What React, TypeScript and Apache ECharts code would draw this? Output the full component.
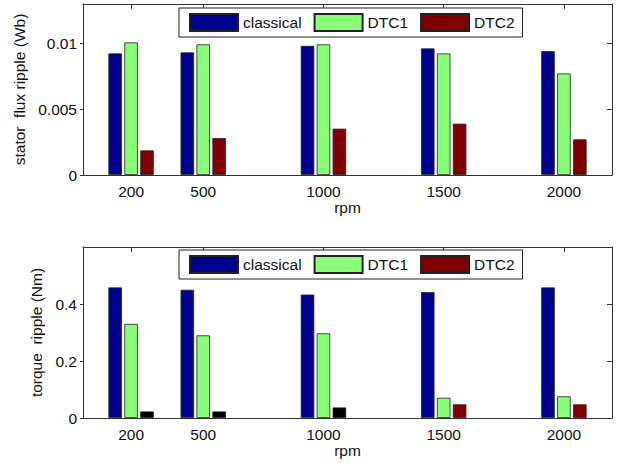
import React, { useEffect, useRef } from "react";
import * as echarts from "echarts";

// Motor speeds (rpm) at which the ripple was measured
const rpm = [200, 500, 1000, 1500, 2000];

// Stator flux ripple (Wb)
const fluxClassical = [0.00924, 0.00932, 0.00982, 0.00962, 0.00942];
const fluxDTC1 = [0.01008, 0.00993, 0.00993, 0.00924, 0.00772];
const fluxDTC2 = [0.00187, 0.00281, 0.00352, 0.0039, 0.00271];

// Torque ripple (Nm)
const torqueClassical = [0.458, 0.45, 0.433, 0.442, 0.458];
const torqueDTC1 = [0.33, 0.29, 0.297, 0.071, 0.076];
const torqueDTC2 = [0.023, 0.023, 0.037, 0.048, 0.048];

// Tick values
const rpmTicks = [200, 500, 1000, 1500, 2000];
const fluxTicks = [0, 0.005, 0.01];
const torqueTicks = [0, 0.2, 0.4];

const seriesNames = ["classical", "DTC1", "DTC2"];

const BLUE = "#00008f";
const GREEN = "#88ff77";
const DARKRED = "#800000";
// DTC2 torque bars pick up a black fill for the first three speeds
const torqueDTC2Colors = ["#000000", "#000000", "#000000", DARKRED, DARKRED];

const FONT = "'Liberation Sans', Arial, Helvetica, sans-serif";
const FS = 15.5;
const INK = "#111";
const AXIS = "#333";

function pairs(xs: number[], ys: number[]) {
  return xs.map((x, i) => [x, ys[i]]);
}

const plain = (v: number) => String(v);

export default function App() {
  const ref = useRef<HTMLDivElement>(null);

  useEffect(() => {
    if (!ref.current) return;
    const chart = echarts.init(ref.current, undefined, { renderer: "svg" });

    const grids = [
      { left: 83, right: 9, top: 4, height: 171 },
      { left: 83, right: 9, top: 247, height: 171 },
    ];

    const xAxes: any[] = [];
    const yAxes: any[] = [];
    const yCfg = [
      { name: "stator  flux ripple (Wb)", max: 0.013, ticks: fluxTicks, gap: 44 },
      { name: "torque  ripple (Nm)", max: 0.6, ticks: torqueTicks, gap: 30 },
    ];

    grids.forEach((_, g) => {
      // bottom x axis with labels
      xAxes.push({
        type: "value",
        gridIndex: g,
        position: "bottom",
        min: 0,
        max: 2200,
        name: "rpm",
        nameLocation: "middle",
        nameGap: 22,
        nameTextStyle: { fontSize: FS, color: INK, fontFamily: FONT },
        axisLine: { show: true, onZero: false, lineStyle: { color: AXIS, width: 1.2 } },
        axisTick: { show: true, inside: true, length: 5, customValues: rpmTicks, lineStyle: { color: AXIS } },
        axisLabel: {
          show: true,
          customValues: rpmTicks,
          formatter: plain,
          margin: 8,
          fontSize: FS,
          color: INK,
          fontFamily: FONT,
        },
        splitLine: { show: false },
      });
      // top x axis: box edge with ticks
      xAxes.push({
        type: "value",
        gridIndex: g,
        position: "top",
        min: 0,
        max: 2200,
        axisLine: { show: true, onZero: false, lineStyle: { color: AXIS, width: 1 } },
        axisTick: { show: true, inside: true, length: 5, customValues: rpmTicks, lineStyle: { color: AXIS } },
        axisLabel: { show: false },
        splitLine: { show: false },
      });
      const c = yCfg[g];
      yAxes.push({
        type: "value",
        gridIndex: g,
        position: "left",
        min: 0,
        max: c.max,
        name: c.name,
        nameLocation: "middle",
        nameGap: c.gap,
        nameRotate: 90,
        nameTextStyle: { fontSize: FS, color: INK, fontFamily: FONT },
        axisLine: { show: true, onZero: false, lineStyle: { color: AXIS, width: 1 } },
        axisTick: { show: true, inside: false, length: 3, customValues: c.ticks, lineStyle: { color: AXIS } },
        axisLabel: {
          show: true,
          customValues: c.ticks,
          formatter: plain,
          margin: 6,
          fontSize: FS,
          color: INK,
          fontFamily: FONT,
        },
        splitLine: { show: false },
      });
      yAxes.push({
        type: "value",
        gridIndex: g,
        position: "right",
        min: 0,
        max: c.max,
        axisLine: { show: true, onZero: false, lineStyle: { color: AXIS, width: 1 } },
        axisTick: { show: true, inside: true, length: 5, customValues: c.ticks, lineStyle: { color: AXIS } },
        axisLabel: { show: false },
        splitLine: { show: false },
      });
    });

    const barBase = {
      type: "bar",
      barWidth: 13.5,
      barGap: "18%",
      itemStyle: { borderColor: "#222", borderWidth: 0.8 },
    };

    const plotSeries = (g: number, values: number[][], colors: string[]) =>
      values.map((vals, i) => ({
        ...barBase,
        name: seriesNames[i],
        xAxisIndex: g * 2,
        yAxisIndex: g * 2,
        itemStyle: { ...barBase.itemStyle, color: colors[i] },
        data: pairs(rpm, vals),
      }));

    const topSeries = plotSeries(0, [fluxClassical, fluxDTC1, fluxDTC2], [BLUE, GREEN, DARKRED]);
    const bottomSeries = plotSeries(1, [torqueClassical, torqueDTC1, torqueDTC2], [BLUE, GREEN, DARKRED]);
    // per-bar fills for DTC2 torque
    (bottomSeries[2] as any).data = rpm.map((x, i) => ({
      value: [x, torqueDTC2[i]],
      itemStyle: { color: torqueDTC2Colors[i] },
    }));

    const legendBase = {
      data: seriesNames,
      left: 179,
      orient: "horizontal",
      icon: "rect",
      itemWidth: 48,
      itemHeight: 17,
      itemGap: 12,
      padding: [5, 8, 5, 10],
      borderColor: "#222",
      borderWidth: 1,
      backgroundColor: "#fff",
      selectedMode: false,
      textStyle: { fontSize: FS, color: INK, fontFamily: FONT, padding: [0, 0, 0, 0] },
    };

    chart.setOption({
      animation: false,
      backgroundColor: "#fff",
      textStyle: { fontFamily: FONT },
      grid: grids,
      legend: [
        { ...legendBase, top: 8 },
        { ...legendBase, top: 250 },
      ],
      xAxis: xAxes,
      yAxis: yAxes,
      series: [...topSeries, ...bottomSeries],
    });

    return () => chart.dispose();
  }, []);

  return (
    <div
      ref={ref}
      style={{ position: "fixed", left: 0, top: 0, width: 621, height: 463, background: "#fff" }}
    />
  );
}
